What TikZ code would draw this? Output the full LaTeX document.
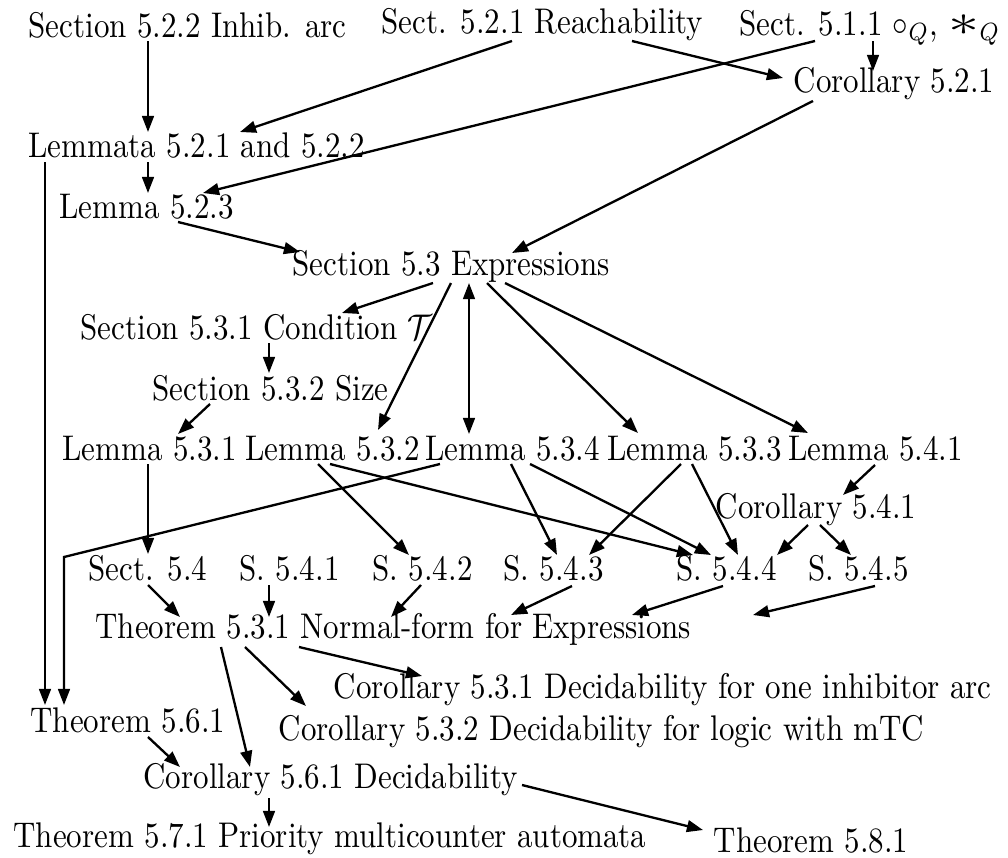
\documentclass[tikz,border=0pt]{standalone}
\usetikzlibrary{arrows.meta,calc}
% labels are set slightly taller than the font's natural proportions
\newcommand{\vtext}[1]{\scalebox{1}[1.15]{#1}}
\begin{document}
\begin{tikzpicture}[x=0.3226pt,y=-0.3226pt,
  lbl/.style={inner sep=0pt, anchor=base west},
  edge/.style={line width=0.75pt, -{Triangle[length=5.2pt,width=3.8pt]}},
  edgeboth/.style={line width=0.75pt, {Triangle[length=5.2pt,width=3.8pt]}-{Triangle[length=5.2pt,width=3.8pt]}},
]
\useasboundingbox (0,0) rectangle (1008,858);

% ---- labels ----
\node[lbl] (s522) at (28,37)  {\vtext{Section 5.2.2 Inhib. arc}};
\node[lbl] (s521) at (381,33) {\vtext{Sect. 5.2.1 Reachability}};
\node[lbl] (s511) at (739,35) {\vtext{Sect. 5.1.1 $\circ_Q$, \scalebox{2}[1.25]{$\ast$}$_Q$}};
\node[lbl] (c521) at (793,92) {\vtext{Corollary 5.2.1}};
\node[lbl] (lem12) at (28,157) {\vtext{Lemmata 5.2.1 and 5.2.2}};
\node[lbl] (l523) at (59,218) {\vtext{Lemma 5.2.3}};
\node[lbl] (s53) at (292,275) {\vtext{Section 5.3 Expressions}};
\node[lbl] (s531) at (80,339) {\vtext{Section 5.3.1 Condition $\mathcal{T}$}};
\node[lbl] (s532) at (152,400) {\vtext{Section 5.3.2 Size}};
\node[lbl] (l531) at (62,460) {\vtext{Lemma 5.3.1}};
\node[lbl] (l532) at (245,460) {\vtext{Lemma 5.3.2}};
\node[lbl] (l534) at (425,460) {\vtext{Lemma 5.3.4}};
\node[lbl] (l533) at (607,460) {\vtext{Lemma 5.3.3}};
\node[lbl] (l541) at (788,460) {\vtext{Lemma 5.4.1}};
\node[lbl] (c541) at (715,518) {\vtext{Corollary 5.4.1}};
\node[lbl] (s54)  at (88,580)  {\vtext{Sect. 5.4}};
\node[lbl] (s541) at (239,580) {\vtext{S. 5.4.1}};
\node[lbl] (s542) at (372,580) {\vtext{S. 5.4.2}};
\node[lbl] (s543) at (503,580) {\vtext{S. 5.4.3}};
\node[lbl] (s544) at (676,580) {\vtext{S. 5.4.4}};
\node[lbl] (s545) at (808,580) {\vtext{S. 5.4.5}};
\node[lbl] (t531) at (95,638)  {\vtext{Theorem 5.3.1 Normal-form for Expressions}};
\node[lbl] (c531) at (333,698) {\vtext{Corollary 5.3.1 Decidability for one inhibitor arc}};
\node[lbl] (c532) at (278,740) {\vtext{Corollary 5.3.2 Decidability for logic with mTC}};
\node[lbl] (t561) at (30,732)  {\vtext{Theorem 5.6.1}};
\node[lbl] (c561) at (143,788) {\vtext{Corollary 5.6.1 Decidability}};
\node[lbl] (t571) at (13,847)  {\vtext{Theorem 5.7.1 Priority multicounter automata}};
\node[lbl] (t581) at (713,852) {\vtext{Theorem 5.8.1}};

\coordinate (bend) at (64,557);
\coordinate (loose) at (753,615);

% ---- dependencies ----
\draw[edge] ($(s522.base west)+(120,4)$) -- ($(lem12.base west)+(120,-25)$);
\draw[edge] ($(s521.base west)+(131,8)$) -- ($(lem12.base west)+(212,-25)$);
\draw[edge] ($(s511.base west)+(76,6)$) -- ($(l523.base west)+(144,-25)$);
\draw[edge] ($(s521.base west)+(251,8)$) -- ($(c521.base west)+(-10,-14)$);
\draw[edge] ($(s511.base west)+(134,6)$) -- ($(c521.base west)+(80,-21)$);
\draw[edge] ($(c521.base west)+(20,9)$) -- ($(s53.base west)+(220,-22)$);
\draw[edge] ($(lem12.base west)+(120,5)$) -- ($(l523.base west)+(89,-25)$);
\draw[edge] ($(l523.base west)+(119,4)$) -- ($(s53.base west)+(8,-23)$);
\draw[edge] ($(lem12.base west)+(17,5)$) -- ($(t561.base west)+(15,-27)$);
\draw[edge] ($(s53.base west)+(141,8)$) -- ($(s531.base west)+(262,-26)$);
\draw[edge] ($(s53.base west)+(159,8)$) -- ($(l532.base west)+(133,-30)$);
\draw[edgeboth] ($(s53.base west)+(177,8)$) -- ($(l534.base west)+(44,-26)$);
\draw[edge] ($(s53.base west)+(195,8)$) -- ($(l533.base west)+(31,-27)$);
\draw[edge] ($(s53.base west)+(213,8)$) -- ($(l541.base west)+(20,-27)$);
\draw[edge] ($(s531.base west)+(189,4)$) -- ($(s532.base west)+(117,-27)$);
\draw[edge] ($(s532.base west)+(58,4)$) -- ($(l531.base west)+(116,-26)$);
\draw[edge] ($(l531.base west)+(86,4)$) -- ($(s54.base west)+(60,-26)$);
\draw[edge] ($(l532.base west)+(73,4)$) -- ($(s542.base west)+(37,-25)$);
\draw[edge] ($(l532.base west)+(85,4)$) -- ($(s544.base west)+(17,-25)$);
\draw[edge] ($(l534.base west)+(15,4)$) -- (bend) -- ($(t561.base west)+(34,-27)$);
\draw[edge] ($(l534.base west)+(86,4)$) -- ($(s543.base west)+(54,-25)$);
\draw[edge] ($(l534.base west)+(105,4)$) -- ($(s544.base west)+(35,-25)$);
\draw[edge] ($(l533.base west)+(74,4)$) -- ($(s543.base west)+(86,-25)$);
\draw[edge] ($(l533.base west)+(85,4)$) -- ($(s544.base west)+(62,-25)$);
\draw[edge] ($(l541.base west)+(87,5)$) -- ($(c541.base west)+(128,-23)$);
\draw[edge] ($(c541.base west)+(93,7)$) -- ($(s544.base west)+(101,-25)$);
\draw[edge] ($(c541.base west)+(105,7)$) -- ($(s545.base west)+(43,-25)$);
\draw[edge] ($(s54.base west)+(60,5)$) -- ($(t531.base west)+(85,-21)$);
\draw[edge] ($(s541.base west)+(30,5)$) -- ($(t531.base west)+(174,-21)$);
\draw[edge] ($(s542.base west)+(49,5)$) -- ($(t531.base west)+(296,-21)$);
\draw[edge] ($(s543.base west)+(69,6)$) -- ($(t531.base west)+(416,-23)$);
\draw[edge] ($(s544.base west)+(47,6)$) -- ($(t531.base west)+(537,-23)$);
\draw[edge] ($(s545.base west)+(67,6)$) -- (loose);
\draw[edge] ($(t531.base west)+(204,9)$) -- ($(c531.base west)+(89,-22)$);
\draw[edge] ($(t531.base west)+(150,9)$) -- ($(c532.base west)+(28,-34)$);
\draw[edge] ($(t531.base west)+(126,9)$) -- ($(c561.base west)+(107,-21)$);
\draw[edge] ($(t561.base west)+(118,5)$) -- ($(c561.base west)+(37,-21)$);
\draw[edge] ($(c561.base west)+(126,10)$) -- ($(t571.base west)+(256,-20)$);
\draw[edge] ($(c561.base west)+(379,-3)$) -- ($(t581.base west)+(-10,-22)$);
\end{tikzpicture}
\end{document}
